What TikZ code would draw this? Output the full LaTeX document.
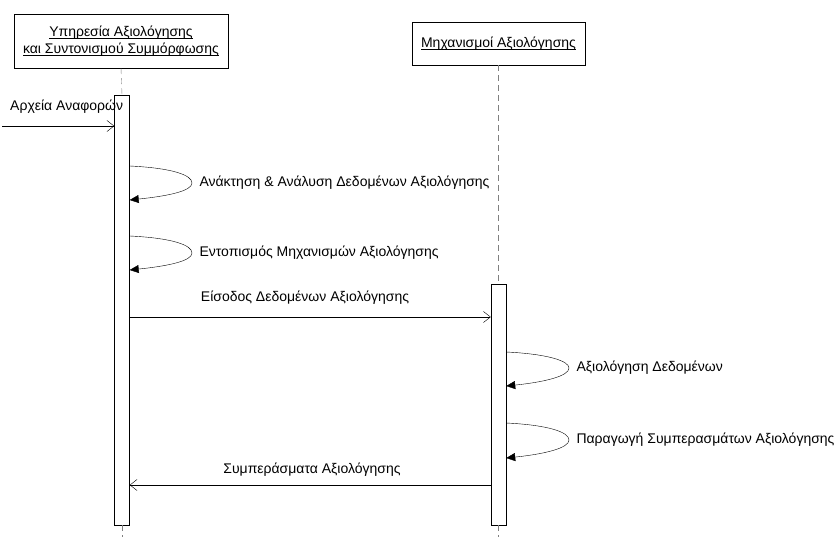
\documentclass[tikz,border=0pt]{standalone}
\usepackage{fontspec}
\setmainfont{Liberation Sans}
\usetikzlibrary{arrows.meta}

\newcommand{\undertext}[1]{\setbox0\hbox{#1}\rlap{\rule[-2pt]{\wd0}{0.6pt}}\box0}

\tikzset{
  actor/.style={draw, fill=white, align=center, inner sep=2pt},
  activation/.style={draw, fill=white, minimum width=15, inner sep=0pt},
  lifeline/.style={gray, dashed, dash pattern=on 6pt off 4pt},
  msg/.style={-{Straight Barb[length=7pt,width=11pt]}},
  selfmsg/.style={-{Triangle[length=9pt,width=8pt]}},
}

\begin{document}
\begin{tikzpicture}[x=1pt, y=-1pt, font=\fontsize{14}{17}\selectfont]
    \useasboundingbox (0,0) rectangle (838,537);

    % Objects
    \node[actor, minimum width=214, minimum height=54] (srv) at (121,41)
        {\undertext{Υπηρεσία Αξιολόγησης}\\\undertext{και Συντονισμού Συμμόρφωσης}};
    \node[actor, minimum width=173, minimum height=43] (mech) at (498.5,43.5)
        {\undertext{Μηχανισμοί Αξιολόγησης}};

    % Activations
    \node[activation, minimum height=430] (act1) at (122,310) {};
    \node[activation, minimum height=241] (act2) at (498.5,404.5) {};

    % Lifelines
    \draw[lifeline] (srv.south) -- (act1.north);
    \draw[lifeline] (act1.south) -- (act1.south |- 0,537);
    \draw[lifeline] (mech.south) -- (act2.north);
    \draw[lifeline] (act2.south) -- (act2.south |- 0,537);

    % Incoming message
    \coordinate (src) at (2,126);
    \draw[msg] (src) -- (src -| act1.west);
    \node[anchor=south west, inner sep=0pt] (lblsrc) at (10,114) {Αρχεία Αναφορών};

    % Self messages on the service
    \draw[selfmsg] (act1.east |- 0,166) .. controls (172,168) and (192,175) .. (192,183)
        .. controls (192,191) and (168,196) .. (act1.east |- 0,200);
    \node[anchor=west] (lbl1) at (196,183) {Ανάκτηση \& Ανάλυση Δεδομένων Αξιολόγησης};
    \draw[selfmsg] (act1.east |- 0,236) .. controls (172,238) and (192,245) .. (192,253)
        .. controls (192,261) and (168,266) .. (act1.east |- 0,270);
    \node[anchor=west] (lbl2) at (196,253) {Εντοπισμός Μηχανισμών Αξιολόγησης};

    % Service to mechanisms
    \draw[msg] (act1.east |- 0,317) -- (act2.west |- 0,317);
    \node (lbl3) at (305,298) {Είσοδος Δεδομένων Αξιολόγησης};

    % Self messages on the mechanisms
    \draw[selfmsg] (act2.east |- 0,352) .. controls (548,354) and (569,361) .. (569,368)
        .. controls (569,376) and (545,382) .. (act2.east |- 0,386);
    \node[anchor=west] (lbl4) at (573,368) {Αξιολόγηση Δεδομένων};
    \draw[selfmsg] (act2.east |- 0,423) .. controls (548,425) and (569,432) .. (569,440)
        .. controls (569,448) and (545,454) .. (act2.east |- 0,458);
    \node[anchor=west] (lbl5) at (573,440) {Παραγωγή Συμπερασμάτων Αξιολόγησης};

    % Return
    \draw[msg] (act2.west |- 0,485) -- (act1.east |- 0,485);
    \node (lbl6) at (312,470) {Συμπεράσματα Αξιολόγησης};
\end{tikzpicture}
\end{document}
